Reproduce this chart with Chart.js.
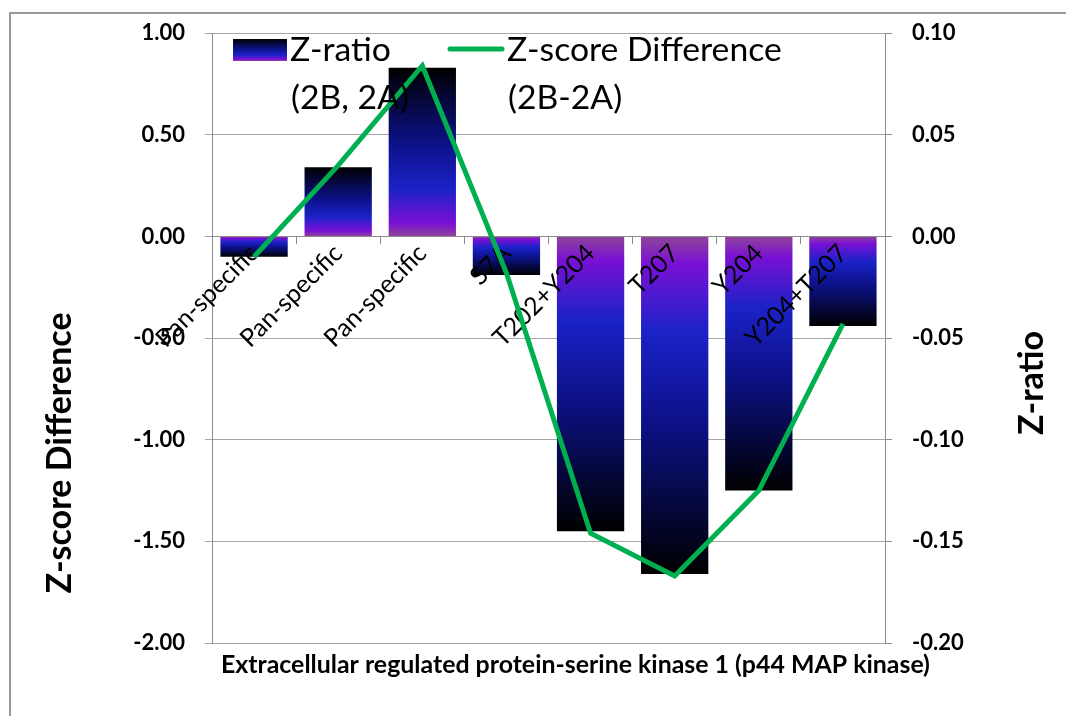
<!DOCTYPE html>
<html>
<head>
<meta charset="utf-8">
<script src="https://cdn.jsdelivr.net/npm/chart.js@4/dist/chart.umd.min.js"></script>
<style>
  html, body { margin: 0; padding: 0; background: #fff; }
  #frame { position: absolute; left: 9px; top: 12px; width: 1100px; height: 800px;
           border-left: 2px solid #999; border-top: 2px solid #999; }
  #wrap { position: absolute; left: 0; top: 0; width: 1066px; height: 716px; }
</style>
</head>
<body>
<div id="frame"></div>
<div id="wrap"><canvas id="chart" width="1066" height="716"></canvas></div>
<script>
// values
var categories = ['Pan-specific', 'Pan-specific', 'Pan-specific', 'S7A', 'T202+Y204', 'T207', 'Y204', 'Y204+T207'];
var zRatio = [-0.10, 0.34, 0.83, -0.19, -1.45, -1.66, -1.25, -0.44];
var zScoreDiff = [-0.010, 0.035, 0.084, -0.018, -0.146, -0.167, -0.125, -0.043];
var leftTicks = [-2.0, -1.5, -1.0, -0.5, 0.0, 0.5, 1.0];
var rightTicks = [-0.20, -0.15, -0.10, -0.05, 0.00, 0.05, 0.10];
var barLegend = ['Z-ratio', '(2B, 2A)'];
var lineLegend = ['Z-score Difference', '(2B-2A)'];
var leftTitle = 'Z-score Difference';
var rightTitle = 'Z-ratio';
var xTitle = 'Extracellular regulated protein-serine kinase 1 (p44 MAP kinase)';

var FONT = 'Lato, "Open Sans", sans-serif';

// gradient running from black (far end) to purple (zero end)
function addStops(g) {
  g.addColorStop(0, '#000000');
  g.addColorStop(0.45, '#0c1187');
  g.addColorStop(0.72, '#1b22c8');
  g.addColorStop(0.92, '#7a10d4');
  g.addColorStop(1, '#8f4599');
  return g;
}

function barFill(c) {
  var chart = c.chart;
  var ys = chart.scales.y;
  if (!ys || c.type !== 'data') return '#1b22c8';
  var y0 = ys.getPixelForValue(0);
  var y1 = ys.getPixelForValue(c.raw);
  if (!isFinite(y0) || !isFinite(y1) || y0 === y1) return '#1b22c8';
  return addStops(chart.ctx.createLinearGradient(0, y1, 0, y0));
}

function fitFont(ctx, text, weight, target) {
  ctx.font = weight + ' 100px ' + FONT;
  var w = ctx.measureText(text).width;
  return weight + ' ' + (100 * target / w).toFixed(1) + 'px ' + FONT;
}

var extras = {
  id: 'extras',
  // the line goes on top of the category labels, so hold it back until the end
  beforeDatasetDraw: function(chart, args) {
    if (args.index === 0 && !chart.$lineNow) return false;
  },
  afterDraw: function(chart) {
    var ctx = chart.ctx;
    var area = chart.chartArea;
    ctx.save();
    ctx.beginPath();
    ctx.rect(area.left, area.top - 5, area.right - area.left, area.bottom - area.top + 10);
    ctx.clip();
    chart.$lineNow = true;
    chart.getDatasetMeta(0).controller.draw();
    chart.$lineNow = false;
    ctx.restore();

    ctx.save();
    ctx.textBaseline = 'alphabetic';
    ctx.textAlign = 'left';

    // legend
    ctx.fillStyle = addStops(ctx.createLinearGradient(0, 39, 0, 61));
    ctx.fillRect(233, 39, 54, 22);
    ctx.strokeStyle = '#00b050';
    ctx.lineWidth = 5;
    ctx.lineCap = 'round';
    ctx.beginPath();
    ctx.moveTo(450, 49);
    ctx.lineTo(502, 49);
    ctx.stroke();

    ctx.fillStyle = '#000';
    ctx.font = fitFont(ctx, lineLegend[0], 'normal', 275);
    ctx.fillText(barLegend[0], 290, 61);
    ctx.fillText(barLegend[1], 291, 109);
    ctx.fillText(lineLegend[0], 507, 61);
    ctx.fillText(lineLegend[1], 508, 109);

    // x title
    ctx.font = fitFont(ctx, xTitle, 'bold', 709);
    ctx.fillText(xTitle, 221, 673);

    // y titles
    ctx.font = fitFont(ctx, leftTitle, 'bold', 281);
    ctx.textAlign = 'center';
    ctx.save();
    ctx.translate(71, 453);
    ctx.rotate(-Math.PI / 2);
    ctx.fillText(leftTitle, 0, 0);
    ctx.restore();
    ctx.save();
    ctx.translate(1043, 383);
    ctx.rotate(-Math.PI / 2);
    ctx.fillText(rightTitle, 0, 0);
    ctx.restore();
    ctx.restore();
  }
};

var ctx = document.getElementById('chart');
new Chart(ctx, {
  type: 'bar',
  data: {
    labels: categories,
    datasets: [{
      type: 'line',
      label: lineLegend.join(' '),
      data: zScoreDiff,
      yAxisID: 'y1',
      borderColor: '#00b050',
      borderWidth: 5,
      pointRadius: 0,
      tension: 0,
      fill: false,
      order: 1
    }, {
      type: 'bar',
      label: barLegend.join(' '),
      data: zRatio,
      yAxisID: 'y',
      backgroundColor: barFill,
      borderWidth: 0,
      categoryPercentage: 1.0,
      barPercentage: 0.8,
      order: 2
    }]
  },
  options: {
    responsive: false,
    animation: false,
    layout: { padding: { top: 32, bottom: 73, left: 0, right: 0 } },
    plugins: {
      legend: { display: false },
      tooltip: { enabled: false }
    },
    scales: {
      x: {
        position: { y: 0 },
        offset: true,
        grid: { display: true, drawOnChartArea: false, drawTicks: true, tickLength: 7, color: '#8c8c8c', offset: true },
        border: { display: true, color: '#8c8c8c', width: 1 },
        ticks: {
          z: 1,
          autoSkip: false, minRotation: 45, maxRotation: 45, padding: -5,
          color: '#000', font: { family: FONT, size: 25 }
        }
      },
      y: {
        position: 'left',
        min: leftTicks[0],
        max: leftTicks[leftTicks.length - 1],
        afterBuildTicks: function(s) { s.ticks = leftTicks.map(function(v) { return { value: v }; }); },
        afterFit: function(s) { s.width = 212; },
        grid: { color: '#a6a6a6', tickLength: 7, lineWidth: 1 },
        border: { display: true, color: '#8c8c8c' },
        ticks: {
          padding: 20, color: '#000',
          font: { family: FONT, size: 22, weight: 'bold' },
          callback: function(v) { return Number(v).toFixed(2); }
        }
      },
      y1: {
        position: 'right',
        min: rightTicks[0],
        max: rightTicks[rightTicks.length - 1],
        afterBuildTicks: function(s) { s.ticks = rightTicks.map(function(v) { return { value: v }; }); },
        afterFit: function(s) { s.width = 181; },
        grid: { drawOnChartArea: false, color: '#8c8c8c', tickLength: 7 },
        border: { display: true, color: '#8c8c8c' },
        ticks: {
          padding: 20, color: '#000',
          font: { family: FONT, size: 22, weight: 'bold' },
          callback: function(v) { return Number(v).toFixed(2); }
        }
      }
    }
  },
  plugins: [extras]
});
</script>
</body>
</html>
